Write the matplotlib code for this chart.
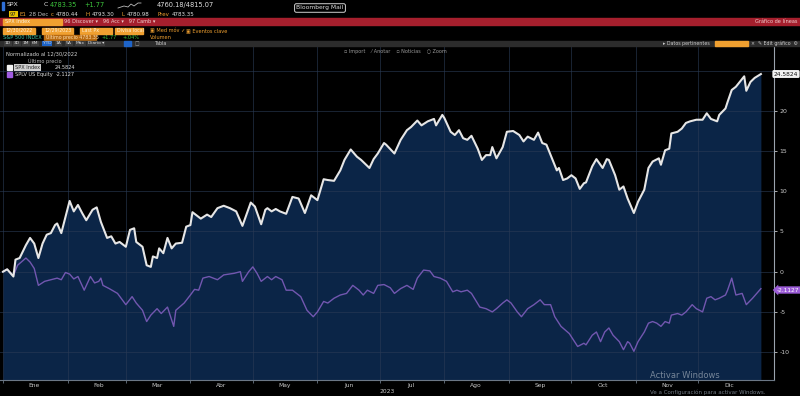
import matplotlib
matplotlib.use("Agg")
import matplotlib.pyplot as plt
from matplotlib.patches import Rectangle
import numpy as np

# ---------------- data (day of 2023, normalized % change) ----------------
spx_days = [0, 2, 5, 6, 8, 11, 13, 15, 17, 19, 21, 23, 25, 26, 28, 30, 32, 34, 36, 38,
            40, 43, 45, 47, 50, 52, 54, 56, 59, 61, 63, 64, 67, 69, 71, 72, 74, 75, 77, 79,
            81, 83, 86, 88, 90, 91, 95, 98, 100, 103, 106, 109, 112, 115, 119, 121, 124, 126, 127, 129,
            131, 133, 136, 139, 142, 145, 148, 149, 151, 154, 156, 159, 162, 164, 167, 170, 172, 176, 178, 180,
            183, 184, 188, 191, 194, 196, 199, 201, 204, 207, 208, 211, 212, 215, 217, 219, 221, 223, 225, 228,
            230, 232, 234, 235, 237, 240, 242, 245, 248, 250, 252, 255, 257, 259, 261, 264, 266, 267, 269, 271,
            273, 275, 277, 279, 280, 283, 285, 288, 290, 291, 294, 296, 298, 300, 303, 305, 308, 310, 312, 315,
            316, 318, 320, 321, 324, 326, 328, 330, 333, 336, 338, 340, 343, 344, 347, 348, 350, 352, 356, 357,
            359, 361, 364]
spx_vals = [0.0, 0.3, -0.6, 1.5, 1.7, 3.3, 4.2, 3.5, 1.7, 3.5, 4.6, 4.8, 5.8, 6.0, 4.8, 6.8, 8.8, 7.5, 8.3, 7.3,
            6.4, 7.7, 8.0, 6.2, 4.2, 4.4, 3.5, 3.7, 3.1, 5.2, 5.4, 3.7, 3.1, 0.8, 0.6, 1.9, 1.7, 2.9, 2.3, 4.2,
            2.9, 3.5, 3.6, 5.6, 5.8, 7.4, 6.6, 7.1, 6.8, 7.9, 8.2, 7.9, 7.5, 5.7, 8.6, 8.1, 5.9, 7.7, 7.9, 7.5,
            7.8, 7.5, 7.2, 9.3, 9.1, 7.3, 9.5, 9.3, 8.9, 11.5, 11.4, 11.3, 12.6, 13.9, 15.2, 14.3, 13.9, 12.9, 14.0, 14.7,
            16.0, 15.8, 14.7, 16.4, 17.6, 18.0, 18.8, 18.2, 18.7, 19.0, 18.2, 19.5, 19.1, 17.4, 17.0, 17.6, 16.6, 16.4, 16.9, 15.3,
            13.9, 14.5, 14.5, 15.5, 14.1, 15.5, 17.4, 17.5, 17.0, 16.2, 16.8, 16.4, 17.3, 16.0, 15.8, 13.9, 12.6, 12.9, 11.4, 11.6,
            12.0, 11.6, 10.3, 11.0, 11.1, 13.1, 14.0, 12.9, 14.0, 13.9, 12.0, 10.2, 10.6, 9.1, 7.3, 8.7, 10.2, 12.9, 13.7, 14.1,
            13.3, 15.1, 15.3, 17.2, 17.4, 17.8, 18.5, 18.7, 18.9, 18.9, 19.7, 19.0, 18.7, 19.5, 20.3, 21.1, 22.6, 23.0, 24.3, 22.5,
            23.6, 24.1, 24.58]

splv_days = [0, 2, 5, 7, 11, 13, 15, 17, 20, 23, 26, 28, 30, 32, 34, 36, 39, 42, 44, 46,
             47, 48, 51, 55, 59, 62, 64, 67, 69, 71, 74, 76, 79, 80, 82, 83, 87, 90, 92, 94,
             96, 99, 103, 106, 111, 114, 115, 118, 120, 122, 124, 127, 129, 131, 134, 136, 139, 143, 146, 149,
             151, 154, 156, 159, 162, 165, 168, 171, 173, 175, 178, 180, 183, 186, 188, 191, 194, 197, 199, 202,
             205, 207, 210, 213, 216, 218, 220, 223, 225, 229, 232, 235, 237, 240, 242, 244, 247, 249, 252, 255,
             258, 260, 263, 265, 268, 272, 274, 276, 279, 280, 283, 285, 287, 289, 291, 293, 296, 298, 300, 301,
             303, 305, 308, 310, 312, 314, 316, 318, 320, 321, 324, 326, 328, 331, 333, 336, 338, 340, 342, 344,
             347, 348, 350, 352, 355, 357, 360, 362, 364]
splv_vals = [0.0, 0.3, -0.5, 0.8, 1.7, 1.2, 0.4, -1.7, -1.2, -1.0, -0.8, -1.0, -0.1, -0.3, -0.9, -0.6, -2.3, -0.6, -1.4, -1.2,
             -0.8, -1.7, -2.1, -2.7, -4.1, -3.1, -3.9, -4.8, -6.2, -5.4, -4.6, -5.2, -4.4, -5.2, -6.8, -4.8, -3.9, -2.9, -2.2, -2.3,
             -0.8, -0.6, -1.0, -0.4, -0.2, 0.0, -1.2, 0.0, 0.6, -0.2, -1.2, -0.6, -1.0, -0.6, -1.0, -2.3, -2.3, -3.1, -4.8, -5.6,
             -5.0, -3.7, -3.9, -3.3, -2.9, -2.7, -1.7, -2.3, -2.9, -2.3, -2.7, -1.7, -1.6, -2.0, -2.7, -2.1, -1.7, -2.2, -0.8, 0.2,
             0.1, -0.6, -0.8, -1.2, -2.5, -2.3, -2.5, -2.3, -2.7, -4.4, -4.6, -5.0, -4.6, -3.9, -3.5, -3.9, -5.0, -5.6, -4.6, -4.1,
             -3.5, -4.1, -4.1, -5.6, -6.8, -7.7, -8.5, -9.3, -8.9, -9.1, -7.9, -7.5, -8.7, -7.5, -7.0, -7.9, -8.7, -9.7, -8.7, -8.9,
             -9.9, -8.7, -7.5, -6.4, -6.2, -6.4, -6.8, -6.2, -6.4, -5.4, -5.2, -5.4, -5.0, -4.1, -4.6, -5.0, -3.3, -3.1, -3.5, -3.3,
             -2.9, -2.3, -0.8, -2.9, -2.7, -4.1, -3.3, -2.7, -2.11]

month_starts = [0, 31, 59, 90, 120, 151, 181, 212, 243, 273, 304, 334, 365]
month_labels = ["Ene", "Feb", "Mar", "Abr", "May", "Jun", "Jul", "Ago", "Sep", "Oct", "Nov", "Dic"]
y_ticks = [-10, -5, 0, 5, 10, 15, 20]
spx_last = "24.5824"
splv_last = "-2.1127"

# ---------------- figure ----------------
W, H = 800, 396
fig = plt.figure(figsize=(W / 100, H / 100), dpi=100, facecolor="black")

def fx(x):
    return x / W

def fy(y):
    return 1 - y / H

NAVY = "#0b2547"
GRID = "#2a3b55"
ORANGE = "#f0a030"
GREEN = "#3cc43c"
RED = "#a51f2d"

# chart axes: pixel x 0..774, y 46..380
ax = fig.add_axes([0, fy(380), fx(774), (380 - 46) / H])
ax.set_facecolor("black")
ymin, ymax = -13.47, 28.07
xmin, xmax = -1.44, 370.3
ax.set_xlim(xmin, xmax)
ax.set_ylim(ymin, ymax)

ax.fill_between(spx_days, spx_vals, ymin, color=NAVY, zorder=1, linewidth=0)
for yt in range(-10, 30, 5):
    ax.axhline(yt, color=GRID, lw=0.7, alpha=0.6, zorder=2)
for ms in month_starts[:-1]:
    ax.axvline(ms, color=GRID, lw=0.7, alpha=0.6, zorder=2)
ax.plot(splv_days, splv_vals, color="#7257b0", lw=1.0, zorder=3)
ax.plot(spx_days, spx_vals, color="#e6e6e6", lw=1.5, zorder=4)

# axes styling
for s in ["top", "left"]:
    ax.spines[s].set_visible(False)
ax.spines["bottom"].set_color("#6b7785")
ax.spines["bottom"].set_linewidth(0.8)
ax.spines["right"].set_color("#9aa3ad")
ax.spines["right"].set_linewidth(0.8)
ax.yaxis.tick_right()
ax.set_yticks(y_ticks)
ax.set_yticklabels([str(t) for t in y_ticks])
ax.tick_params(axis="y", colors="#c8c8c8", labelsize=4.5, length=2, width=0.6, pad=2)
ax.set_xticks(month_starts[:-1])
ax.set_xticklabels([])
ax.set_xticks([m + 15 for m in month_starts[:-1]], minor=True)
ax.set_xticklabels(month_labels, minor=True)
ax.tick_params(axis="x", which="major", colors="#6b7785", length=2, width=0.6)
ax.tick_params(axis="x", which="minor", colors="#c8c8c8", labelsize=4.3, length=0, pad=2)
ax.set_xlabel("2023", color="#c8c8c8", fontsize=4.3, labelpad=1)

# value badges on right
fig.text(fx(786), fy(74), spx_last, fontsize=4.2, color="#111111", ha="center", va="center",
         bbox=dict(boxstyle="round,pad=0.25", fc="#f2f2f2", ec="none"))
fig.text(fx(788), fy(290), splv_last, fontsize=4.2, color="white", ha="center", va="center",
         bbox=dict(boxstyle="larrow,pad=0.2", fc="#9b5cd6", ec="none"))

# ---------------- header ----------------
fig.patches.append(Rectangle((fx(2), fy(10)), fx(2), 8 / H, transform=fig.transFigure, color="#2f6fd6"))
fig.text(fx(7), fy(5), "SPX", fontsize=4.5, color="#e0e0e0", va="center")
fig.text(fx(44), fy(5), "C", fontsize=4.5, color="#e0e0e0", va="center")
fig.text(fx(50), fy(5), "4783.35", fontsize=4.8, color=GREEN, va="center")
fig.text(fx(84), fy(5), "+1.77", fontsize=4.8, color=GREEN, va="center")
fig.lines.append(plt.Line2D([fx(118), fx(124), fx(128), fx(131), fx(134), fx(138), fx(141)],
                            [fy(8), fy(6), fy(7), fy(4), fy(6), fy(3), fy(3)],
                            transform=fig.transFigure, color="#bbbbbb", lw=0.6))
fig.text(fx(157), fy(5), "4760.18/4815.07", fontsize=4.8, color="#e0e0e0", va="center")
fig.text(fx(320), fy(8), "Bloomberg Mail", fontsize=4.3, color="#e0e0e0", ha="center", va="center",
         bbox=dict(boxstyle="round,pad=0.3", fc="black", ec="#d0d0d0", lw=0.7))

fig.text(fx(10), fy(14), "97", fontsize=3.8, color="#222222", va="center",
         bbox=dict(boxstyle="square,pad=0.15", fc="#e6c200", ec="none"))
row2 = [(20, "E1", ORANGE), (29, "28 Dec", "#bbbbbb"), (51, "c", ORANGE), (56, "4780.44", "#e0e0e0"),
        (86, "H", ORANGE), (92, "4793.30", "#e0e0e0"), (122, "L", ORANGE), (127, "4780.98", "#e0e0e0"),
        (157, "Prev", ORANGE), (172, "4783.35", "#e0e0e0")]
for x, t, c in row2:
    fig.text(fx(x), fy(14), t, fontsize=4.0, color=c, va="center")

fig.patches.append(Rectangle((0, fy(25)), 1, 7 / H, transform=fig.transFigure, color=RED))
fig.patches.append(Rectangle((fx(3), fy(24.5)), fx(59), 6 / H, transform=fig.transFigure, color=ORANGE))
fig.text(fx(5), fy(21.5), "SPX Index", fontsize=3.6, color="#fff3dd", va="center")
fig.text(fx(64), fy(21.5), "96 Discover \u25be   96 Acc \u25be   97 Camb \u25be", fontsize=3.6, color="#f0d0d0", va="center")
fig.text(fx(797), fy(21.5), "Gr\u00e1fico de l\u00edneas", fontsize=3.6, color="#f0d0d0", va="center", ha="right")

for x0, x1, t in [(3, 35, "12/30/2022"), (42, 73, "12/29/2023"), (80, 112, "Last Px"), (115, 143, "Divisa local")]:
    fig.patches.append(Rectangle((fx(x0), fy(33.5)), fx(x1 - x0), 6 / H, transform=fig.transFigure, color=ORANGE))
    fig.text(fx(x0 + 2), fy(30.5), t, fontsize=3.4, color="#fff0d8", va="center")
fig.text(fx(150), fy(30.5), "\u25a3 Med m\u00f3v \u2713", fontsize=3.6, color=ORANGE, va="center")
fig.text(fx(186), fy(30.5), "\u25a3 Eventos clave", fontsize=3.6, color=ORANGE, va="center")

fig.text(fx(3), fy(37.3), "S&P 500 INDEX", fontsize=3.6, color="#3fc0a0", va="center")
fig.patches.append(Rectangle((fx(44), fy(40)), fx(52), 5.5 / H, transform=fig.transFigure, color="#b86a10"))
fig.text(fx(46), fy(37.3), "\u00daltimo precio 4783.35", fontsize=3.4, color="#ffe0b0", va="center")
fig.text(fx(101), fy(37.3), "+1.77", fontsize=3.6, color=GREEN, va="center")
fig.text(fx(122), fy(37.3), "+.04%", fontsize=3.6, color=GREEN, va="center")
fig.text(fx(150), fy(37.3), "Volumen", fontsize=3.6, color=ORANGE, va="center")

fig.patches.append(Rectangle((0, fy(46)), 1, 5.5 / H, transform=fig.transFigure, color="#2c2c2c"))
btns = [(5, "1D"), (14, "3D"), (23, "1M"), (32, "6M"), (43, "YTD"), (56, "1A"), (66, "5A"), (76, "M\u00e1x"),
        (88, "Diario \u25be")]
for x, t in btns:
    fc = "#1e64c8" if t == "YTD" else "#3c3c3c"
    fig.text(fx(x), fy(43.3), t, fontsize=3.2, color="#dddddd", va="center",
             bbox=dict(boxstyle="square,pad=0.15", fc=fc, ec="none"))
fig.patches.append(Rectangle((fx(124), fy(45.5)), fx(7), 4.5 / H, transform=fig.transFigure, color="#1e64c8"))
fig.text(fx(135), fy(43.3), "\u25a1", fontsize=3.4, color="#aaaaaa", va="center")
fig.text(fx(155), fy(43.3), "Tabla", fontsize=3.4, color="#cccccc", va="center")
fig.text(fx(663), fy(43.3), "\u25b8 Datos pertinentes", fontsize=3.4, color="#cccccc", va="center")
fig.patches.append(Rectangle((fx(715), fy(45.5)), fx(33), 4.5 / H, transform=fig.transFigure, color=ORANGE))
fig.text(fx(751), fy(43.3), "\u00d7  \u270e Edit gr\u00e1fico  \u2699", fontsize=3.4, color="#cccccc", va="center")

# chart toolbar
fig.text(fx(344), fy(52), "\u25ab Import    \u2044 Anotar    \u25ab Noticias    \u25cb Zoom", fontsize=3.5,
         color="#9a9a9a", va="center")

# legend block
fig.text(fx(6), fy(54), "Normalizado al 12/30/2022", fontsize=3.8, color="#d0d0d0", va="center")
fig.text(fx(28), fy(60.5), "\u00daltimo precio", fontsize=3.6, color="#bbbbbb", va="center")
fig.patches.append(Rectangle((fx(7), fy(70)), fx(5), 5 / H, transform=fig.transFigure, color="#f2f2f2"))
fig.text(fx(15), fy(67.5), "SPX Index", fontsize=3.6, color="#222222", va="center",
         bbox=dict(boxstyle="square,pad=0.15", fc="#cfcfcf", ec="none"))
fig.text(fx(75), fy(67.5), spx_last, fontsize=3.6, color="#e0e0e0", va="center", ha="right")
fig.patches.append(Rectangle((fx(7), fy(77)), fx(5), 5 / H, transform=fig.transFigure, color="#a05ce0"))
fig.text(fx(15), fy(74.5), "SPLV US Equity", fontsize=3.6, color="#e0e0e0", va="center")
fig.text(fx(75), fy(74.5), splv_last, fontsize=3.6, color="#e0e0e0", va="center", ha="right")

# watermark
fig.text(fx(650), fy(376), "Activar Windows", fontsize=6, color="#9aa6b4", alpha=0.75, va="center")
fig.text(fx(650), fy(392), "Ve a Configuraci\u00f3n para activar Windows.", fontsize=4, color="#9aa6b4",
         alpha=0.75, va="center")

fig.savefig("out.png", dpi=100, facecolor="black")
